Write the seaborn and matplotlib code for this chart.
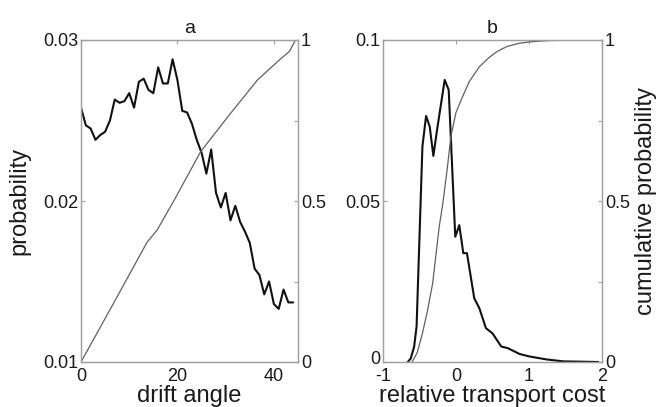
import matplotlib
matplotlib.use("Agg")
import matplotlib.pyplot as plt
import matplotlib.transforms as mtransforms
import seaborn as sns
import numpy as np

# ---- data ----
drift_angle = list(range(0, 45))
drift_prob = [0.0258, 0.0247, 0.0245, 0.0238, 0.0241, 0.0243, 0.0250, 0.0263, 0.0261, 0.0262,
              0.0267, 0.0258, 0.0274, 0.0276, 0.0269, 0.0267, 0.0283, 0.0273, 0.0273, 0.0288,
              0.0275, 0.0256, 0.0255, 0.0248, 0.0238, 0.0230, 0.0217, 0.0232, 0.0205, 0.0196,
              0.0205, 0.0188, 0.0197, 0.0187, 0.0181, 0.0174, 0.0158, 0.0154, 0.0142, 0.0150,
              0.0136, 0.0133, 0.0145, 0.0137, 0.0137]
drift_cum_x = [0, 6.7, 13.7, 15.8, 19.6, 24.8, 31.0, 36.6, 41.5, 43.2, 44.2, 44.4]
drift_cum = [0.0, 0.181, 0.372, 0.41, 0.51, 0.653, 0.772, 0.876, 0.943, 0.964, 0.992, 1.0]

cost_x = [-0.66, -0.62, -0.574, -0.54, -0.46, -0.41, -0.36, -0.31, -0.26, -0.155, -0.10,
          -0.01, 0.045, 0.10, 0.15, 0.195, 0.25, 0.32, 0.41, 0.50, 0.62, 0.71, 0.87, 1.01,
          1.24, 1.47, 1.95]
cost_prob = [0.0, 0.0011, 0.0047, 0.011, 0.0669, 0.0764, 0.0731, 0.064, 0.072, 0.0876, 0.0845,
             0.0389, 0.0425, 0.0338, 0.0338, 0.0275, 0.0198, 0.0167, 0.0105, 0.0089, 0.0048,
             0.0043, 0.0025, 0.0017, 0.0008, 0.0002, 0.0]
cost_cum_x = [-0.60, -0.53, -0.46, -0.39, -0.32, -0.23, -0.18, -0.12, -0.07, 0.0, 0.09, 0.18,
              0.32, 0.45, 0.56, 0.70, 0.87, 1.05, 1.24, 1.6, 2.0]
cost_cum = [0.0, 0.03, 0.089, 0.16, 0.244, 0.42, 0.493, 0.60, 0.70, 0.775, 0.824, 0.87,
            0.917, 0.945, 0.964, 0.980, 0.99, 0.995, 0.998, 1.0, 1.0]

# tick labels
a_xticks = [0, 20, 40]
a_yticks = [0.01, 0.02, 0.03]
a_yticklabels = ["0.01", "0.02", "0.03"]
b_xticks = [-1, 0, 1, 2]
b_xticklabels = ["-1", "0", "1", "2"]
b_yticks = [0, 0.05, 0.1]
b_yticklabels = ["0", "0.05", "0.1"]
cum_ticks = [0, 0.25, 0.5, 0.75, 1]
cum_ticklabels = ["0", "", "0.5", "", "1"]

# ---- style ----
sns.set_theme(style="white")
plt.rcParams["font.family"] = ["Liberation Sans", "DejaVu Sans"]
plt.rcParams["axes.unicode_minus"] = False

SPINE = "#a0a0a0"
TXT = "#1a1a1a"
LINE = "#111111"
CUM = "#606060"
TICKFS = 13
LABFS = 17

fig = plt.figure(figsize=(6.72, 4.07), dpi=100)


def style_axes(ax, twin, xpad=4):
    for a in (ax, twin):
        for s in a.spines.values():
            s.set_color(SPINE)
            s.set_linewidth(0.9)
    ax.tick_params(axis="y", direction="in", length=3, width=0.8, color=SPINE,
                   labelsize=TICKFS, labelcolor=TXT, right=False, pad=2)
    ax.tick_params(axis="x", direction="in", length=3, width=0.8, color=SPINE,
                   labelsize=TICKFS, labelcolor=TXT, top=True, pad=xpad)
    twin.tick_params(axis="y", direction="in", length=3, width=0.8, color=SPINE,
                     labelsize=TICKFS, labelcolor=TXT, left=False, right=True, pad=2)


# panel a
axa = fig.add_axes([81 / 672, 1 - 362 / 407, 217 / 672, 322 / 407])
sns.lineplot(x=drift_angle, y=drift_prob, ax=axa, color=LINE, linewidth=1.5)
axa.set_xlim(0, 45)
axa.set_ylim(0.01, 0.03)
axa.set_xticks(a_xticks)
axa.set_yticks(a_yticks)
axa.set_yticklabels(a_yticklabels)
axa.set_xlabel("drift angle", fontsize=LABFS, color=TXT, labelpad=0)
axa.set_ylabel("probability", fontsize=LABFS, color=TXT, labelpad=9)
axa.set_title("a", fontsize=14, color=TXT, pad=5)
twa = axa.twinx()
sns.lineplot(x=drift_cum_x, y=drift_cum, ax=twa, color=CUM, linewidth=0.9)
twa.set_ylim(0, 1)
twa.set_yticks(cum_ticks)
twa.set_yticklabels(cum_ticklabels)
twa.set_ylabel("")
style_axes(axa, twa)

# panel b
axb = fig.add_axes([383 / 672, 1 - 362 / 407, 219 / 672, 322 / 407])
sns.lineplot(x=cost_x, y=cost_prob, ax=axb, color=LINE, linewidth=1.5)
axb.set_xlim(-1, 2)
axb.set_ylim(0, 0.1)
axb.set_xticks(b_xticks)
axb.set_xticklabels(b_xticklabels)
axb.set_yticks(b_yticks)
axb.set_yticklabels(b_yticklabels)
axb.set_xlabel("relative transport cost", fontsize=LABFS, color=TXT, labelpad=0)
axb.set_ylabel("")
axb.set_title("b", fontsize=14, color=TXT, pad=5)
twb = axb.twinx()
sns.lineplot(x=cost_cum_x, y=cost_cum, ax=twb, color=CUM, linewidth=0.9)
twb.set_ylim(0, 1)
twb.set_yticks(cum_ticks)
twb.set_yticklabels(cum_ticklabels)
twb.set_ylabel("cumulative probability", fontsize=LABFS, color=TXT, labelpad=4)
style_axes(axb, twb)

# lift the bottom-left "0" a little so it does not collide with "-1"
lbl0 = axb.get_yticklabels()[0]
lbl0.set_transform(lbl0.get_transform() + mtransforms.ScaledTranslation(0, 5 / 100, fig.dpi_scale_trans))

fig.savefig("out.png", dpi=100)
